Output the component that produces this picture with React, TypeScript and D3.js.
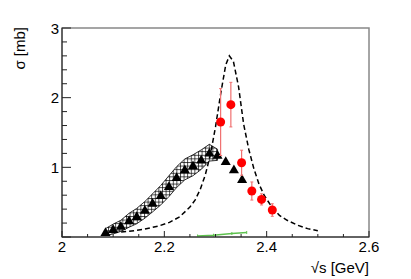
import React from "react";
import * as d3 from "d3";

// Black triangles (with hatched band)
const triX = [2.085, 2.100, 2.115, 2.131, 2.146, 2.162, 2.177, 2.193, 2.209, 2.224, 2.240, 2.256, 2.272, 2.288, 2.304, 2.320, 2.336, 2.352];
const triY = [0.07, 0.115, 0.16, 0.24, 0.30, 0.39, 0.49, 0.60, 0.73, 0.86, 0.97, 1.03, 1.11, 1.21, 1.18, 1.09, 0.97, 0.83];
// band half-widths for the first points (band stops at the peak)
const bandErr = [0.05, 0.07, 0.08, 0.10, 0.11, 0.12, 0.13, 0.14, 0.15, 0.15, 0.15, 0.15, 0.14, 0.12, 0.08];

// Red data points with errors
const redX = [2.310, 2.330, 2.351, 2.371, 2.390, 2.411];
const redY = [1.65, 1.90, 1.066, 0.66, 0.54, 0.387];
const redErr = [0.48, 0.32, 0.18, 0.13, 0.08, 0.09];

// Dashed curve
const curveX = [2.10, 2.13, 2.16, 2.19, 2.21, 2.23, 2.25, 2.26, 2.27, 2.28, 2.29, 2.30, 2.31, 2.32, 2.327, 2.335, 2.345, 2.355, 2.365, 2.375, 2.385, 2.395, 2.41, 2.425, 2.44, 2.46, 2.48, 2.50];
const curveY = [0.065, 0.08, 0.11, 0.16, 0.21, 0.29, 0.43, 0.53, 0.68, 0.89, 1.18, 1.58, 2.05, 2.47, 2.60, 2.52, 2.16, 1.62, 1.26, 0.98, 0.76, 0.60, 0.43, 0.31, 0.24, 0.17, 0.12, 0.09];

// Green line
const greenX = [2.265, 2.296, 2.332, 2.361];
const greenY = [0.015, 0.025, 0.05, 0.065];

const xMajor = [2, 2.2, 2.4, 2.6];
const xMajorLabels = ["2", "2.2", "2.4", "2.6"];
const yMajor = [1, 2, 3];
const yMajorLabels = ["1", "2", "3"];

const W = 411, H = 279;
const L = 62, R = 369, T = 28, B = 237;

export default function App() {
  const x = d3.scaleLinear().domain([2, 2.6]).range([L, R]);
  const y = d3.scaleLinear().domain([0, 3]).range([B, T]);

  const xMinor = d3.range(2, 2.6001, 0.05);
  const yMinor = d3.range(0, 3.0001, 0.2);

  const curve = d3.line<number>().x((d, i) => x(curveX[i])).y((d) => y(d));
  const green = d3.line<number>().x((d, i) => x(greenX[i])).y((d) => y(d));

  const upper = bandErr.map((e, i) => [x(triX[i]), y(triY[i] + e)] as [number, number]);
  const lower = bandErr.map((e, i) => [x(triX[i]), y(triY[i] - e)] as [number, number]).reverse();
  const bandPath = d3.line()([...upper, ...lower]) + "Z";

  const tri = d3.symbol().type(d3.symbolTriangle).size(44)();
  const font = "'Liberation Sans', Arial, Helvetica, sans-serif";

  return (
    <svg width={W} height={H} style={{ position: "absolute", left: 0, top: 0 }} fontFamily={font}>
      <defs>
        <pattern id="grid" width="3.6" height="3.6" patternUnits="userSpaceOnUse">
          <path d="M0 0.5 H3.6 M0.5 0 V3.6" stroke="#000" strokeWidth="0.7" fill="none" />
        </pattern>
        <clipPath id="plot">
          <rect x={L} y={T} width={R - L} height={B - T} />
        </clipPath>
      </defs>
      <rect x={0} y={0} width={W} height={H} fill="#fff" />
      {/* frame */}
      <rect x={L} y={T} width={R - L} height={B - T} fill="none" stroke="#888" strokeWidth={1.5} />

      <g clipPath="url(#plot)">
        {/* band */}
        <path d={bandPath} fill="url(#grid)" stroke="#000" strokeWidth={0.8} />
        {/* dashed curve */}
        <path d={curve(curveY) || ""} fill="none" stroke="#000" strokeWidth={1.5} strokeDasharray="5,3" />
        {/* green */}
        <path d={green(greenY) || ""} fill="none" stroke="#5ec24e" strokeWidth={1.5} />
        {greenY.map((v, i) => (
          <line key={"g" + i} x1={x(greenX[i])} x2={x(greenX[i])} y1={y(v) - 1.5} y2={y(v) + 1.5} stroke="#5ec24e" strokeWidth={1} />
        ))}
        {/* triangles */}
        {triY.map((v, i) => (
          <path key={"t" + i} d={tri} transform={`translate(${x(triX[i])},${y(v) + 1})`} fill="#000" />
        ))}
        {/* red error bars */}
        {redY.map((v, i) => (
          <g key={"r" + i}>
            <line x1={x(redX[i])} x2={x(redX[i])} y1={y(v + redErr[i])} y2={y(v - redErr[i])} stroke="#f07070" strokeWidth={1.2} />
            <line x1={x(redX[i]) - 1.5} x2={x(redX[i]) + 1.5} y1={y(v + redErr[i])} y2={y(v + redErr[i])} stroke="#f07070" strokeWidth={1} />
            <line x1={x(redX[i]) - 1.5} x2={x(redX[i]) + 1.5} y1={y(v - redErr[i])} y2={y(v - redErr[i])} stroke="#f07070" strokeWidth={1} />
            <circle cx={x(redX[i])} cy={y(v)} r={4.5} fill="#ff0000" />
          </g>
        ))}
      </g>

      {/* axes */}
      <line x1={L} x2={L} y1={T} y2={B} stroke="#222" strokeWidth={1} />
      <line x1={L} x2={R} y1={B} y2={B} stroke="#222" strokeWidth={1} />
      {xMinor.map((v, i) => {
        const major = xMajor.some((m) => Math.abs(m - v) < 1e-6);
        return <line key={"xm" + i} x1={x(v)} x2={x(v)} y1={B} y2={B - (major ? 6 : 3)} stroke="#222" strokeWidth={1} />;
      })}
      {yMinor.map((v, i) => {
        const major = Math.abs(v - Math.round(v)) < 1e-6;
        return <line key={"ym" + i} x1={L} x2={L + (major ? 9 : 5)} y1={y(v)} y2={y(v)} stroke="#222" strokeWidth={1} />;
      })}
      {xMajor.map((v, i) => (
        <text key={"xl" + i} x={x(v)} y={252} fontSize={15} textAnchor="middle" fill="#000">{xMajorLabels[i]}</text>
      ))}
      {yMajor.map((v, i) => (
        <text key={"yl" + i} x={59} y={y(v) + 5.5} fontSize={15} textAnchor="end" fill="#000">{yMajorLabels[i]}</text>
      ))}
      <text x={R} y={273} fontSize={15} textAnchor="end" fill="#000">√s [GeV]</text>
      <text transform="translate(25,27) rotate(-90)" fontSize={15} textAnchor="end" fill="#000">σ [mb]</text>
    </svg>
  );
}
